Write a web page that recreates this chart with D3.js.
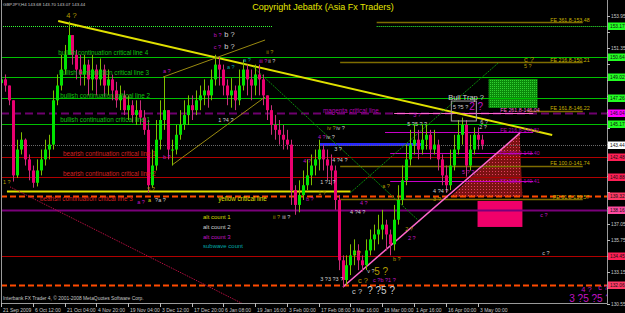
<!DOCTYPE html>
<html>
<head>
<meta charset="utf-8">
<script src="https://cdn.jsdelivr.net/npm/d3@7"></script>
<style>
body { margin: 0; background: #000; }
svg { display: block; font-family: "Liberation Sans", Arial, sans-serif; }
</style>
</head>
<body>
<div id="chart"></div>
<script>
// ---- data ----
var timeLabels = ["21 Sep 2009", "6 Oct 12:00", "21 Oct 04:00", "4 Nov 20:00", "19 Nov 04:00", "3 Dec 12:00",
  "17 Dec 20:00", "6 Jan 08:00", "19 Jan 16:00", "3 Feb 00:00", "17 Feb 08:00", "3 Mar 16:00",
  "18 Mar 00:00", "1 Apr 16:00", "16 Apr 00:00", "3 May 00:00"];
var barsPerLabel = 8;

var priceTicks = [153.95, 152.65, 151.35, 150.05, 148.75, 147.45, 146.15, 144.85, 143.55, 142.25,
  140.95, 139.65, 138.35, 137.05, 135.75, 134.45, 133.15, 131.85, 130.55];

var firstOpen = 148.5;
var closes = [148.8,148.3,147.1,141.0,143.1,143.9,142.3,141.4,140.4,141.4,
  142.3,143.1,143.5,147.1,148.3,149.6,150.8,152.4,150.8,149.6,
  149.2,150.0,148.8,149.6,148.8,149.6,148.3,148.8,147.9,147.1,
  147.5,146.3,146.7,145.9,146.3,145.7,144.7,140.2,141.8,143.9,
  145.5,146.3,143.1,143.1,144.3,145.1,145.9,146.7,146.3,147.1,
  147.5,147.9,147.5,148.8,150.0,149.6,148.3,147.5,147.9,147.1,
  148.3,149.6,148.8,148.3,149.2,148.8,147.5,146.3,145.1,144.7,
  144.3,143.9,143.5,139.8,138.6,139.4,140.2,141.0,141.8,142.3,
  143.1,142.3,141.8,141.4,139.0,134.1,132.5,133.7,134.5,134.9,
  134.1,133.7,134.9,135.8,136.2,136.6,137.0,136.2,135.4,137.4,
  139.0,140.6,142.3,143.5,143.9,143.1,143.9,144.3,143.1,143.5,
  142.3,141.0,140.2,141.8,143.1,144.3,145.1,141.8,143.1,144.3,
  143.9,143.5];
var highs = [149.4,149.2,148.3,147.1,143.9,144.5,144.0,142.7,141.8,142.3,
  143.1,143.9,144.3,147.9,149.2,150.8,151.6,153.5,152.4,151.2,
  150.8,150.8,150.4,150.8,150.0,150.5,150.0,149.6,149.2,148.6,
  148.3,147.9,147.5,147.1,147.1,147.1,146.3,145.5,143.1,145.5,
  147.1,149.0,146.3,143.9,145.1,146.3,147.1,147.5,147.5,147.9,
  148.3,148.8,148.3,149.6,150.8,150.6,150.0,148.8,148.9,148.3,
  149.6,150.4,150.0,149.6,150.0,150.0,149.2,147.5,146.7,145.9,
  145.5,145.1,144.7,143.9,140.2,140.6,141.4,142.3,142.7,143.1,
  143.9,143.5,143.1,142.7,141.8,139.4,134.5,134.5,135.4,135.8,
  135.4,134.5,135.8,136.6,137.0,137.8,138.2,137.4,136.6,138.6,
  140.2,141.8,143.5,144.7,145.1,144.7,145.1,145.1,144.7,144.7,
  143.9,142.7,141.8,143.1,144.3,145.5,145.7,145.5,144.3,144.9,
  144.9,144.3];
var lows = [147.9,147.8,146.7,140.5,140.8,142.7,141.8,140.6,140.0,140.1,
  141.0,141.8,142.3,143.1,146.7,147.9,149.2,150.8,150.0,148.8,
  148.3,148.3,147.5,147.9,147.5,148.3,147.4,147.5,147.1,146.5,
  146.3,145.9,145.5,145.3,145.1,145.1,144.3,139.6,140.0,141.4,
  143.1,144.7,142.3,141.8,142.7,143.9,144.7,145.1,145.5,145.9,
  146.3,146.7,146.5,147.1,148.3,148.3,147.5,146.7,146.5,146.3,
  146.7,147.9,147.5,147.1,147.5,147.5,146.7,145.5,144.3,143.9,
  143.5,143.1,143.1,138.6,137.8,138.0,139.0,139.8,140.2,141.0,
  141.4,141.4,140.6,140.2,138.2,133.3,131.9,132.1,132.9,133.7,
  133.3,133.2,133.3,134.5,134.9,135.4,135.8,134.9,134.5,134.9,
  137.0,138.6,140.2,141.8,142.7,142.3,142.7,143.1,142.3,142.7,
  141.4,140.2,139.6,139.8,141.4,142.7,143.5,140.9,141.4,142.7,
  143.1,143.1];

// horizontal levels: price, from bar, to bar, kind
var levels = [
  [153.17, 0, 68.5, "greenDot"], [153.17, 94.6, 153, "greenDot"],
  [153.48, 94.6, 146.5, "olive"],
  [150.64, 0, 153, "green"], [150.21, 85.4, 146.5, "olive"],
  [149.02, 0, 153, "green"], [147.26, 0, 153, "green"],
  [146.04, 0, 153, "purpleDash"], [146.22, 132.5, 146.5, "olive"], [146.1, 99, 134, "pink"],
  [145.17, 0, 153, "green"],
  [144.53, 96.7, 134, "magenta"],
  [143.58, 80.3, 106.3, "blue"],
  [143.44, 0, 153, "grayDot"],
  [142.82, 98, 134, "magenta"],
  [142.48, 0, 153, "red"],
  [141.76, 85.4, 146.5, "olive"],
  [140.88, 0, 153, "red"],
  [140.55, 98, 134, "magenta"],
  [139.73, 1.5, 88, "yellow"],
  [139.32, 0, 153, "orangeDash"],
  [139.1, 85.4, 146.5, "olive"],
  [138.16, 0, 153, "purple"],
  [134.45, 0, 153, "red"],
  [132.06, 0, 153, "orangeDash"]
];

// price boxes on the axis
var boxLevels = [[153.17, "green"], [150.64, "green"], [149.02, "green"], [147.26, "green"],
  [146.04, "magenta"], [145.17, "green"], [143.44, "white"], [142.48, "red"], [140.88, "red"],
  [139.32, "orange"], [138.16, "pink"], [134.45, "red"], [132.06, "orange"]];

// trend lines: [bar0, price0, bar1, price1, kind]
var trendLines = [
  [14.4, 153.54, 138.8, 144.28, "yellow"],
  [40.8, 148.99, 66.5, 152.0, "oliveThin"],
  [43.1, 141.85, 66.5, 147.37, "oliveThin"],
  [63.5, 149.81, 105.5, 137.22, "darkGreen"],
  [87.9, 139.57, 125.2, 150.13, "darkGreen"],
  [86.1, 131.93, 130.7, 144.45, "pink"],
  [2.3, 140.06, 61.0, 130.55, "redDot"]
];

// line captions: [bar, price, text, kind]
var captions = [
  [14.4, 150.94, "bullish continuation critical line 4", "green"],
  [14.6, 149.32, "bullish continuation critical line 3", "green"],
  [14.9, 147.45, "bullish continuation critical line 2", "green"],
  [14.9, 145.50, "bullish continuation critical line 1", "green"],
  [15.6, 142.74, "bearish continuation critical line 1", "red"],
  [15.6, 141.11, "bearish continuation critical line 2", "red"],
  [9.8, 139.08, "bearish continuation critical line 3", "red"],
  [54.7, 139.08, "yellow critical line", "yellow"],
  [81.1, 146.23, "magenta critical line", "purple"],
  [138.3, 153.63, "FE 361.8-153.48", "olive"],
  [138.3, 150.38, "FE 216.8-150.21", "olive"],
  [138.3, 146.48, "FE 161.8-146.22", "olive"],
  [138.3, 142.01, "FE 100.0-141.74", "olive"],
  [139.0, 139.25, "FE 61.8-139.57", "olive"],
  [125.7, 146.31, "FE 261.8-146.04", "pink"],
  [125.7, 144.69, "FE 216.8-144.81", "purple"],
  [125.7, 142.82, "FE 200.0-143.40", "purple"],
  [125.7, 140.54, "FE 138.2-140.41", "purple"]
];

// wave count labels: [bar, price, text, count, size]
var waves = [
  [16.4, 154.03, "4 ?", "main", 2],
  [40.8, 149.48, "a ?", "alt3", 1],
  [53.6, 152.41, "b ?", "alt3", 1], [56.2, 152.49, "b ?", "alt2", 2],
  [53.6, 151.43, "c ?", "alt3", 1], [56.2, 151.51, "b ?", "alt2", 2],
  [66.8, 151.03, "ii ?", "main", 1],
  [65.0, 150.29, "iii ?", "alt3", 1], [67.3, 150.29, "ii ?", "alt2", 1],
  [61.0, 150.38, "a ?", "sub", 1], [56.9, 149.81, "a ?", "sub", 1],
  [54.7, 145.50, "1 ?4 ?", "alt2", 1],
  [0.5, 140.46, "1 ?", "main", 1],
  [36.8, 139.90, "5 ?", "main", 1],
  [34.3, 138.84, "a ?", "alt3", 1], [37.0, 139.0, "a", "alt1", 1], [38.8, 139.0, "?a ?", "alt2", 1],
  [40.8, 142.50, "b ?", "alt3", 1],
  [82.1, 144.85, "iv ?", "main", 1], [84.4, 144.85, "iv ?", "alt2", 1],
  [79.8, 144.12, "4 ?", "alt3", 1], [81.9, 144.12, "iv ?", "alt2", 1],
  [83.9, 143.15, "3 ?", "alt2", 1],
  [76.1, 142.17, "4 ?", "alt3", 1],
  [83.4, 142.25, "4 ?4 ?", "alt2", 1],
  [80.4, 140.46, "1 ?1 ?", "alt2", 1],
  [79.9, 139.57, "1 ?", "main", 1],
  [76.8, 139.08, "b ?", "alt3", 1],
  [96.0, 140.14, "a ?", "main", 1],
  [90.4, 138.76, "4 ?", "alt3", 1],
  [68.5, 137.62, "ii ?", "main", 1], [70.8, 137.62, "iii ?", "alt2", 1],
  [87.9, 138.03, "4 ?4 ?", "alt2", 1],
  [88.7, 134.70, "2 ?", "main", 1],
  [80.4, 132.58, "3 ?3 ?3 ?", "alt2", 1],
  [89.9, 132.50, "c ?", "main", 2],
  [93.7, 132.50, "c ?b ?1 ?", "alt3", 1],
  [88.4, 131.61, "c ?", "alt2", 2], [92.2, 131.61, "? ?5 ?", "alt2", 3],
  [92.2, 133.23, "v ?", "alt2", 1], [94.0, 133.23, "5 ?", "main", 3],
  [98.7, 134.21, "b ?", "main", 1],
  [101.8, 136.65, "2 ?", "main", 1], [102.5, 135.90, "2 ?", "alt3", 1],
  [112.6, 147.37, "Bull Trap ?", "alt2", 2],
  [113.8, 146.56, "5 ?5 ?", "alt2", 1], [117.9, 146.56, "2 ?", "alt3", 3],
  [131.7, 150.46, "c ?", "main", 2], [131.7, 149.89, "5 ?", "main", 1],
  [135.8, 137.78, "c ?", "alt3", 1],
  [136.3, 134.70, "c ?", "alt2", 1],
  [146.1, 131.77, "4 ?", "alt3", 2], [150.4, 131.93, "c ?", "alt3", 2],
  [143.1, 130.96, "3 ?5 ?5 ?", "alt3", 3],
  [103.8, 145.91, "3 ?", "alt3", 1],
  [102.3, 145.18, "5 ?5 ? ?", "alt2", 1],
  [120.7, 145.34, "6 ?", "alt2", 1], [120.4, 144.93, "2 ?", "alt2", 1],
  [108.8, 139.73, "4 ?4 ?", "alt2", 1], [108.8, 139.08, "3 ?", "main", 1],
  [116.1, 141.28, "5 ? ?", "alt3", 1]
];

var legendItems = [["alt count 1", "alt1"], ["alt count 2", "alt2"], ["alt count 3", "alt3"], ["subwave count", "sub"]];

// zones
var bullTrap = [113.4, 147.04, 119.7, 145.42];
var greenZone = [122.8, 148.83, 135.1, 146.48];
var pinkZone = [120.0, 138.92, 131.3, 136.81];
var redTriangle = [[113.0, 139.25], [130.6, 144.45], [131.3, 139.25]];

// ---- drawing ----
var W = 625, H = 313;
var x = d3.scaleLinear().domain([0, 152.6]).range([1, 607]);
var y = d3.scaleLinear().domain([130.55, 153.95]).range([304, 16]);

var colors = {
  green: "#00c000", greenDot: "#33ff33", olive: "#7e6c00", oliveThin: "#9a8a10", purpleDash: "#6e006e",
  pink: "#ff66cc", magenta: "#c800c8", blue: "#2828ff", grayDot: "#6a6a6a", red: "#b00000",
  yellow: "#e0e000", orangeDash: "#ff4a00", purple: "#7a007a", darkGreen: "#0a8a0a", redDot: "#d0104a"
};
var countColors = { main: "#b49c00", alt1: "#d8d800", alt2: "#d0d0d0", alt3: "#c414c4", sub: "#00a8a8" };
var captionColors = { green: "#10c010", red: "#d82020", yellow: "#e0e000", purple: "#b000b0", olive: "#c8b400", pink: "#ff70d0" };
var boxColors = { green: "#22ff22", magenta: "#ff00ff", white: "#ffffff", red: "#ff1f55", orange: "#ff3a66", pink: "#ff4aa0" };
var waveSizes = { 1: 5.5, 2: 7.5, 3: 10 };

var svg = d3.select("#chart").append("svg").attr("width", W).attr("height", H);
svg.append("rect").attr("width", W).attr("height", H).attr("fill", "#000");

var defs = svg.append("defs");
var pr = defs.append("pattern").attr("id", "redDots").attr("width", 3).attr("height", 3).attr("patternUnits", "userSpaceOnUse");
pr.append("rect").attr("width", 3).attr("height", 3).attr("fill", "#7c1212");
pr.append("rect").attr("width", 1).attr("height", 1).attr("fill", "#e04060");
var pg = defs.append("pattern").attr("id", "greenDots").attr("width", 2).attr("height", 2).attr("patternUnits", "userSpaceOnUse");
pg.append("rect").attr("width", 2).attr("height", 2).attr("fill", "#0a8a0a");
pg.append("rect").attr("width", 1).attr("height", 1).attr("fill", "#30d030");

svg.append("clipPath").attr("id", "plot").append("rect").attr("x", 1).attr("y", 0).attr("width", 606).attr("height", 303);
var plot = svg.append("g").attr("clip-path", "url(#plot)");

// zones under everything
plot.append("path")
  .attr("d", d3.line().x(function(d) { return x(d[0]); }).y(function(d) { return y(d[1]); })(redTriangle) + "Z")
  .attr("fill", "url(#redDots)");
plot.append("rect")
  .attr("x", x(pinkZone[0])).attr("y", y(pinkZone[1]))
  .attr("width", x(pinkZone[2]) - x(pinkZone[0])).attr("height", y(pinkZone[3]) - y(pinkZone[1]))
  .attr("fill", "#f0006a");
plot.append("rect")
  .attr("x", x(greenZone[0])).attr("y", y(greenZone[1]))
  .attr("width", x(greenZone[2]) - x(greenZone[0])).attr("height", y(greenZone[3]) - y(greenZone[1]))
  .attr("fill", "url(#greenDots)");

// horizontal levels
plot.selectAll(".level").data(levels).enter().append("line")
  .attr("x1", function(d) { return x(d[1]); })
  .attr("x2", function(d) { return x(d[2]); })
  .attr("y1", function(d) { return Math.round(y(d[0])) + 0.5; })
  .attr("y2", function(d) { return Math.round(y(d[0])) + 0.5; })
  .attr("stroke", function(d) { return colors[d[3]]; })
  .attr("stroke-width", function(d) {
    return (d[3] == "purpleDash" || d[3] == "purple" || d[3] == "yellow" || d[3] == "orangeDash") ? 2 : (d[3] == "blue" ? 3 : (d[3] == "olive" ? 1.5 : 1));
  })
  .attr("stroke-dasharray", function(d) {
    if (d[3] == "greenDot" || d[3] == "grayDot") return "1,1";
    if (d[3] == "purpleDash") return "8,4";
    if (d[3] == "orangeDash") return "6,3";
    return null;
  });

// trend lines
plot.selectAll(".trend").data(trendLines).enter().append("line")
  .attr("x1", function(d) { return x(d[0]); })
  .attr("y1", function(d) { return y(d[1]); })
  .attr("x2", function(d) { return x(d[2]); })
  .attr("y2", function(d) { return y(d[3]); })
  .attr("stroke", function(d) { return colors[d[4]]; })
  .attr("stroke-width", function(d) { return d[4] == "yellow" ? 2 : (d[4] == "pink" ? 1.5 : 1); })
  .attr("stroke-dasharray", function(d) { return d[4] == "redDot" ? "1,1" : (d[4] == "darkGreen" ? "2,1" : null); });

// candles
var bars = closes.map(function(c, i) {
  return { i: i, open: i ? closes[i - 1] : firstOpen, close: c, high: highs[i], low: lows[i] };
});
var candle = plot.append("g").selectAll("g").data(bars).enter().append("g");
candle.append("line")
  .attr("x1", function(d) { return Math.round(x(d.i)) + 0.5; })
  .attr("x2", function(d) { return Math.round(x(d.i)) + 0.5; })
  .attr("y1", function(d) { return y(d.high); })
  .attr("y2", function(d) { return y(d.low); })
  .attr("stroke", function(d) { return d.close >= d.open ? "#7fbf00" : "#c8307a"; });
candle.append("rect")
  .attr("x", function(d) { return Math.round(x(d.i)) - 1; })
  .attr("width", 3)
  .attr("y", function(d) { return y(Math.max(d.open, d.close)); })
  .attr("height", function(d) { return Math.max(1, Math.abs(y(d.open) - y(d.close))); })
  .attr("fill", function(d) { return d.close >= d.open ? "#00e400" : "#ea0070"; });

// bull trap box
plot.append("rect")
  .attr("x", x(bullTrap[0])).attr("y", y(bullTrap[1]))
  .attr("width", x(bullTrap[2]) - x(bullTrap[0])).attr("height", y(bullTrap[3]) - y(bullTrap[1]))
  .attr("fill", "none").attr("stroke", "#a0a0a0");

// captions
plot.selectAll(".cap").data(captions).enter().append("text")
  .attr("x", function(d) { return x(d[0]); })
  .attr("y", function(d) { return y(d[1]); })
  .attr("dy", "0.35em")
  .attr("font-size", function(d) { return d[3] == "olive" || d[3] == "pink" || (d[3] == "purple" && d[0] > 100) ? 5.3 : 6.3; })
  .attr("fill", function(d) { return captionColors[d[3]]; })
  .text(function(d) { return d[2]; });

// wave labels
plot.selectAll(".wave").data(waves).enter().append("text")
  .attr("x", function(d) { return x(d[0]); })
  .attr("y", function(d) { return y(d[1]); })
  .attr("dy", "0.35em")
  .attr("font-size", function(d) { return waveSizes[d[4]]; })
  .attr("fill", function(d) { return countColors[d[3]]; })
  .text(function(d) { return d[2]; });

// fixed labels
svg.append("text").attr("x", 323).attr("y", 10).attr("text-anchor", "middle")
  .attr("font-size", 9).attr("fill", "#e6e600").text("Copyright Jebatfx (Asia Fx Traders)");
svg.append("text").attr("x", 3).attr("y", 5.5).attr("font-size", 4.4).attr("fill", "#c8c8c8")
  .text("GBPJPY,H4 143.68 143.70 143.07 143.44");
svg.append("text").attr("x", 3).attr("y", 300).attr("font-size", 4.9).attr("fill", "#c8c8c8")
  .text("Interbank FX Trader 4, \u00a9 2001-2008 MetaQuotes Software Corp.");
svg.selectAll(".legend").data(legendItems).enter().append("text")
  .attr("x", 203)
  .attr("y", function(d, i) { return 219 + i * 9.8; })
  .attr("font-size", 6)
  .attr("fill", function(d) { return countColors[d[1]]; })
  .text(function(d) { return d[0]; });

// frame
svg.append("path").attr("d", "M1.5,0V303.5H607.5V0").attr("fill", "none").attr("stroke", "#9a9a9a");

// price axis (labels hidden where a price box sits on them)
var ya = svg.append("g");
ya.selectAll("line").data(priceTicks).enter().append("line")
  .attr("x1", 607).attr("x2", 610)
  .attr("y1", function(d) { return Math.round(y(d)) + 0.5; })
  .attr("y2", function(d) { return Math.round(y(d)) + 0.5; })
  .attr("stroke", "#bbb");
var freeTicks = priceTicks.filter(function(t) {
  return !boxLevels.some(function(b) { return Math.abs(y(b[0]) - y(t)) < 7.5; });
});
ya.selectAll("text").data(freeTicks).enter().append("text")
  .attr("x", 611).attr("y", function(d) { return y(d); }).attr("dy", "0.35em")
  .attr("font-size", 4.8).attr("fill", "#c8c8c8")
  .text(function(d) { return d.toFixed(2); });

var bx = svg.append("g").selectAll("g").data(boxLevels).enter().append("g")
  .attr("transform", function(d) { return "translate(608," + Math.round(y(d[0])) + ")"; });
bx.append("rect").attr("x", 0).attr("y", -3.5).attr("width", 17).attr("height", 7.5)
  .attr("fill", function(d) { return boxColors[d[1]]; });
bx.append("text").attr("x", 2).attr("y", 0.3).attr("dy", "0.35em").attr("font-size", 4.8)
  .attr("fill", "#111").text(function(d) { return d[0].toFixed(2); });

// time axis
var ta = svg.append("g").selectAll("g").data(timeLabels).enter().append("g")
  .attr("transform", function(d, i) { return "translate(" + Math.round(x(i * barsPerLabel)) + ",303)"; });
ta.append("line").attr("x1", 0.5).attr("x2", 0.5).attr("y1", 0).attr("y2", 4).attr("stroke", "#bbb");
ta.append("text").attr("x", 2).attr("y", 8.5).attr("font-size", 5).attr("fill", "#c8c8c8")
  .text(function(d) { return d; });
</script>
</body>
</html>
